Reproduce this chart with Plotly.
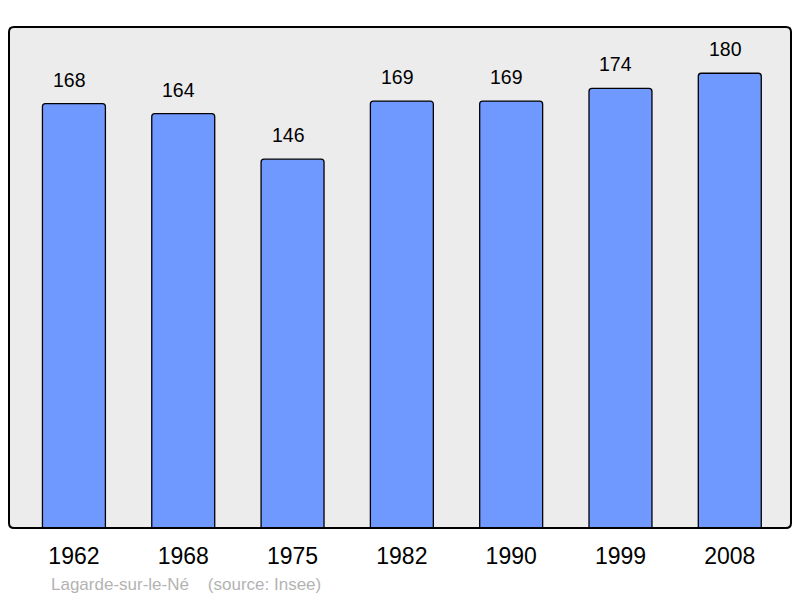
import plotly.graph_objects as go

years = ["1962", "1968", "1975", "1982", "1990", "1999", "2008"]
population = [168, 164, 146, 169, 169, 174, 180]
source_text = "Lagarde-sur-le-Né\u00a0\u00a0\u00a0\u00a0(source: Insee)"

# page body has an 8px margin; figure is sized to fill the remaining window
OFF = 8
FW, FH = 800 - OFF, 598 - OFF
L, T, R, B = 9 - OFF, 27 - OFF, FW - (791 - OFF), FH - (528 - OFF)

fig = go.Figure()
fig.add_trace(go.Bar(
    x=list(range(len(years))), y=population, width=0.576,
    marker=dict(color="#7099ff", line=dict(color="#000000", width=1.3), cornerradius=3),
    hoverinfo="skip",
))

for i, v in enumerate(population):
    fig.add_annotation(x=i, y=v, text=str(v), showarrow=False, yanchor="bottom",
                       yshift=11, xshift=-4.5,
                       font=dict(family="Liberation Sans, Arial", size=19.5, color="#000"))

W, H = float(FW - L - R), float(FH - T - B)
fig.add_annotation(xref="paper", yref="paper", x=(49 - 9) / W, y=(528 - 584) / H,
                   xanchor="left", yanchor="middle", text=source_text, showarrow=False,
                   font=dict(family="Liberation Sans, Arial", size=17, color="#b3b3b3"))

# rounded frame
r = 5.0
rx, ry = r / W, r / H
path = (f"M {rx},0 L {1-rx},0 Q 1,0 1,{ry} L 1,{1-ry} Q 1,1 {1-rx},1 "
        f"L {rx},1 Q 0,1 0,{1-ry} L 0,{ry} Q 0,0 {rx},0 Z")
fig.add_shape(type="path", xref="paper", yref="paper", path=path,
              line=dict(color="#000000", width=2), fillcolor="rgba(0,0,0,0)", layer="above")

fig.update_layout(
    width=FW, height=FH,
    margin=dict(l=L, r=R, t=T, b=B, pad=0),
    paper_bgcolor="#ffffff", plot_bgcolor="#ececec",
    showlegend=False,
    xaxis=dict(range=[-0.594, 6.56], tickmode="array", tickvals=list(range(len(years))),
               ticktext=years, showgrid=False, zeroline=False, ticks="outside", ticklen=7,
               tickcolor="rgba(0,0,0,0)", tickfont=dict(family="Liberation Sans, Arial", size=23, color="#000")),
    yaxis=dict(range=[0, 198.3], showgrid=False, zeroline=False, showticklabels=False),
)

fig.write_html("out.html")
